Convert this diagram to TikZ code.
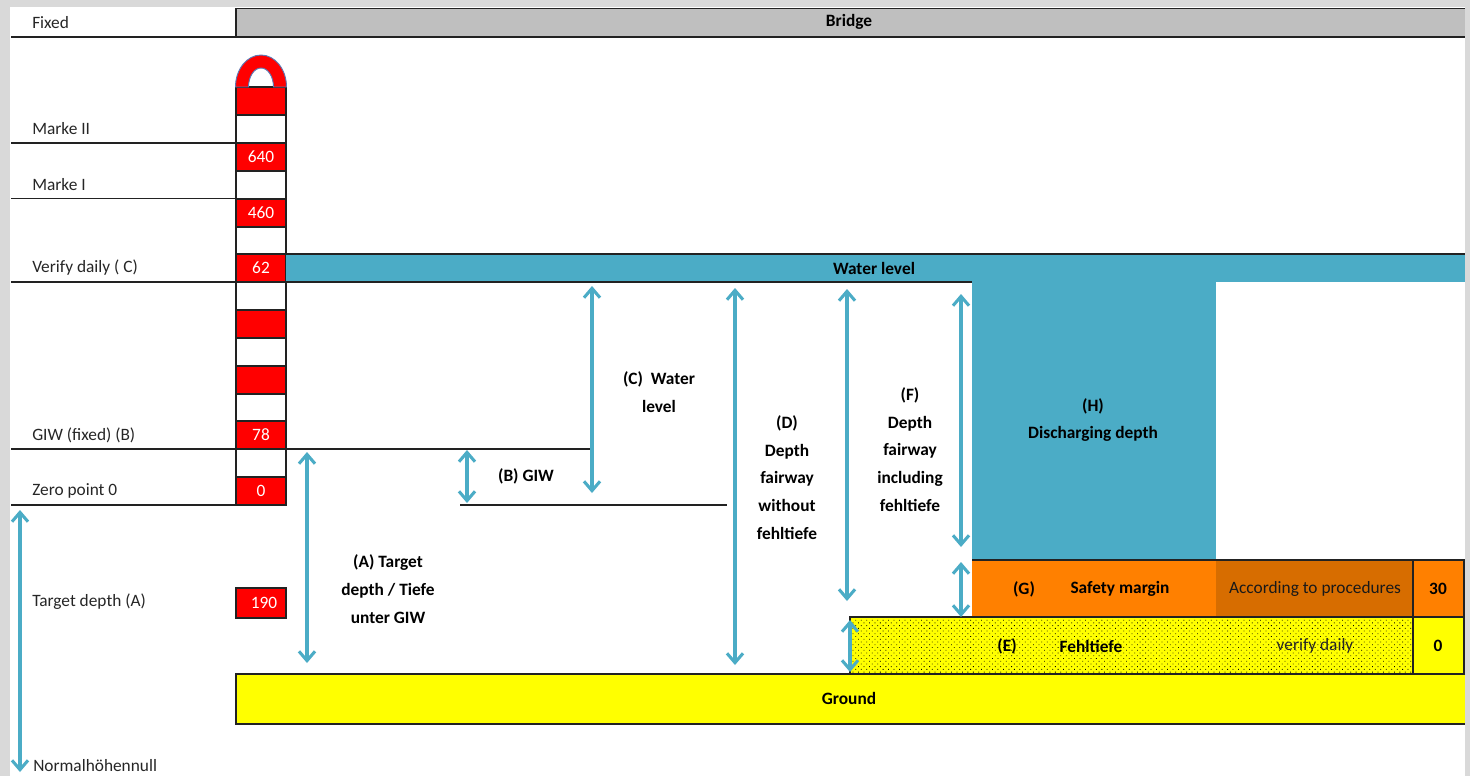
\documentclass[tikz,border=0pt]{standalone}
\usepackage{fontspec}
\setmainfont{Carlito}
\usetikzlibrary{arrows.meta,patterns.meta}
\definecolor{pagegray}{HTML}{D9D9D9}
\definecolor{bridgegray}{HTML}{BFBFBF}
\definecolor{wateraqua}{HTML}{4BACC6}
\definecolor{safeorange}{HTML}{FF8000}
\definecolor{darkorange}{HTML}{D76D00}
\definecolor{groundyellow}{HTML}{FFFF00}
\definecolor{redcell}{HTML}{FF0000}
\definecolor{rulecol}{HTML}{222222}
\definecolor{archline}{HTML}{5B79B5}
\tikzset{
  x=0.75pt,y=-0.75pt,
  rulel/.style={draw=rulecol,line width=0.9pt},
  cell/.style={draw=rulecol,line width=0.9pt,fill=white},
  redbox/.style={draw=rulecol,line width=0.9pt,fill=redcell},
  plainlabel/.style={font=\fontsize{13}{15}\selectfont,inner sep=0pt,anchor=west,text=black!85},
  celltext/.style={font=\fontsize{13}{15}\selectfont,inner sep=0pt,text=white},
  boldlabel/.style={font=\fontsize{13}{20.9}\selectfont\bfseries,align=center,inner sep=0pt,text=black},
  normlabel/.style={font=\fontsize{13}{15}\selectfont,inner sep=0pt,text=black!85},
  dim/.style={draw=wateraqua,line width=2.5pt,{Straight Barb[length=7pt,width=12pt,line width=2.3pt]}-{Straight Barb[length=7pt,width=12pt,line width=2.3pt]}},
}
\begin{document}
\begin{tikzpicture}
\useasboundingbox (0,0) rectangle (1470,776);
% page
\fill[pagegray] (0,0) rectangle (1470,776);
\fill[white] (10,7) rectangle (1465,776);
% bridge band
\fill[bridgegray] (236,8.5) rectangle (1465,37);
\draw[rulel] (236,37) -- (236,8.5) -- (1465,8.5);
\draw[rulel] (11,37) -- (1465,37);
\node[boldlabel] (bridge) at (849,22) {Bridge};
\node[plainlabel] (fixed) at (32,23) {Fixed};
% gauge stick
\foreach \ya/\yb in {115/143,171/199,227/254,282/310,338/366,394/421,449/477}
  \draw[cell] (236,\ya) rectangle (286,\yb);
\foreach \ya/\yb in {87/115,143/171,199/227,254/282,310/338,366/394,421/449,477/505}
  \draw[redbox] (236,\ya) rectangle (286,\yb);
\draw[redbox] (236,588) rectangle (286,618);
% arch
\fill[redcell,draw=archline,line width=0.7pt,even odd rule]
  (235.5,87) arc[start angle=180,end angle=0,x radius=25.5,y radius=-32] -- (273.5,87)
  arc[start angle=0,end angle=180,x radius=12.5,y radius=-19] -- cycle;
\node[celltext] (v640) at (261,157) {640};
\node[celltext] (v460) at (261,213) {460};
\node[celltext] (v62) at (261,268) {62};
\node[celltext] (v78) at (261,435) {78};
\node[celltext] (v0) at (261,491) {0};
\node[celltext] (v190) at (264,603) {190};
% left rules
\draw[rulel] (11,143) -- (236,143);
\draw[rulel] (11,198.5) -- (236,198.5);
\draw[rulel] (11,282) -- (286,282);
\draw[rulel] (11,449) -- (590,449);
\draw[rulel] (11,505) -- (236,505);
\draw[rulel] (460,505) -- (727,505);
% left labels
\node[plainlabel] (marke2) at (32,129) {Marke II};
\node[plainlabel] (marke1) at (32,185) {Marke I};
\node[plainlabel] (verify) at (32,268) {Verify daily ( C)};
\node[plainlabel] (giwf) at (32,435) {GIW (fixed) (B)};
\node[plainlabel] (zero) at (32,491) {Zero point 0};
\node[plainlabel] (target) at (32,602) {Target depth (A)};
\node[plainlabel] (nhn) at (33,766) {Normalhöhennull};
% water level
\fill[wateraqua] (286,254) rectangle (1465,282);
\draw[rulel] (286,254) -- (1465,254);
\draw[rulel] (286,282) -- (972,282);
\node[boldlabel] (water) at (874,268) {Water level};
% discharging depth
\fill[wateraqua] (972,282) rectangle (1216,560);
\node[boldlabel] (hlabel) at (1093,420) {(H)\\Discharging depth};
% safety margin
\fill[safeorange] (972,560) rectangle (1216,617);
\fill[darkorange] (1216,560) rectangle (1413,617);
\fill[safeorange] (1413,560) rectangle (1464,617);
\draw[rulel] (972,560) -- (1464,560) -- (1464,674);
\draw[rulel] (1413,560) -- (1413,674);
\node[boldlabel] (glabel) at (1024,589) {(G)};
\node[boldlabel] (safety) at (1120,589) {Safety margin};
\node[normlabel,text=black!90] (proc) at (1315,589) {According to procedures};
\node[boldlabel] (v30) at (1438,589) {30};
% fehltiefe
\fill[groundyellow] (850,617) rectangle (1413,674);
\fill[pattern={Dots[distance=2.9pt,angle=45,radius=0.42pt]},pattern color=black] (850,617) rectangle (1413,674);
\fill[groundyellow] (1413,617) rectangle (1464,674);
\draw[rulel] (850,674) -- (850,617) -- (1464,617);
\draw[rulel] (1413,560) -- (1413,674);
\draw[rulel] (1464,560) -- (1464,674);
\node[boldlabel] (elabel) at (1007,646) {(E)};
\node[boldlabel] (fehl) at (1091,646) {Fehltiefe};
\node[normlabel] (vdaily) at (1315,646) {verify daily};
\node[boldlabel] (v0b) at (1438,646) {0};
% ground
\fill[groundyellow] (236,674) rectangle (1465,724);
\draw[rulel] (1465,674) -- (236,674) -- (236,724) -- (1465,724);
\node[boldlabel] (ground) at (849,698) {Ground};
% dimension labels
\node[boldlabel] (alabel) at (388,589) {(A) Target\\depth / Tiefe\\unter GIW};
\node[boldlabel] (blabel) at (526,476) {(B) GIW};
\node[boldlabel] (clabel) at (659,392) {(C)\ \ Water\\level};
\node[boldlabel] (dlabel) at (787,477.5) {(D)\\Depth\\fairway\\without\\fehltiefe};
\node[boldlabel] (flabel) at (910,449.5) {(F)\\Depth\\fairway\\including\\fehltiefe};
% dimension arrow end points
\coordinate (a1) at (307,452); \coordinate (a2) at (307,663);
\coordinate (b1) at (467,450); \coordinate (b2) at (467,503);
\coordinate (c1) at (592,286); \coordinate (c2) at (592,493);
\coordinate (d1) at (735,288); \coordinate (d2) at (735,665);
\coordinate (e1) at (850,620); \coordinate (e2) at (850,672);
\coordinate (f1) at (847,289); \coordinate (f2) at (847,601);
\coordinate (g1) at (961,294); \coordinate (g2) at (961,547);
\coordinate (h1) at (961,562); \coordinate (h2) at (961,617);
\coordinate (n1) at (20,510); \coordinate (n2) at (20,772);
\foreach \p/\q in {a1/a2,b1/b2,c1/c2,d1/d2,e1/e2,f1/f2,g1/g2,h1/h2,n1/n2}
  \draw[dim] (\p) -- (\q);
\end{tikzpicture}
\end{document}
